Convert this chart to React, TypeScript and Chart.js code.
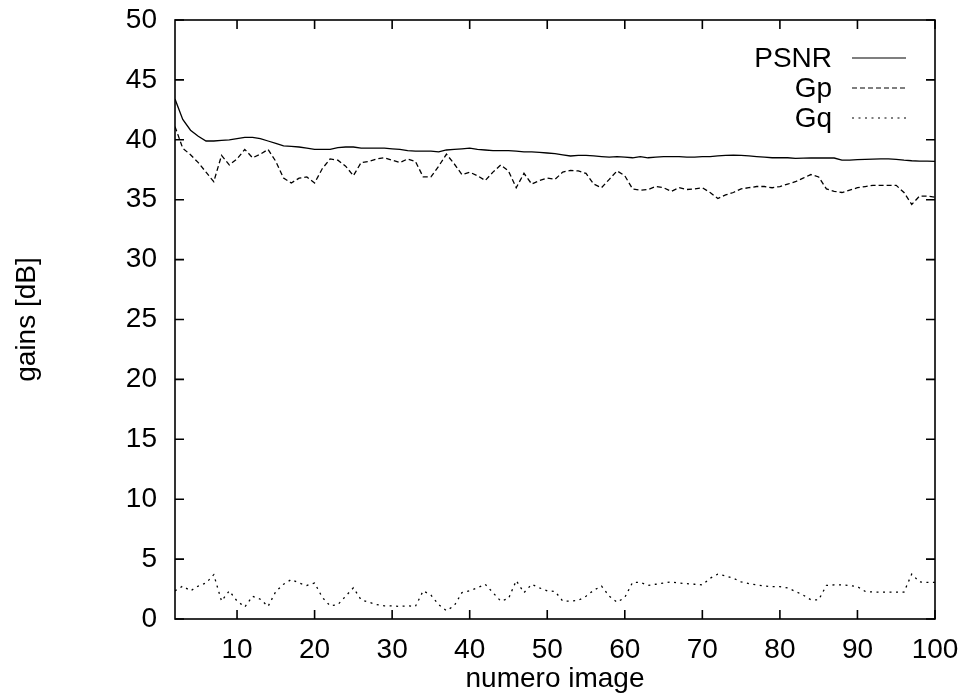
import React, { useEffect, useRef } from "react";
import { Chart, registerables } from "chart.js";

Chart.register(...registerables);

const imageNumbers = [
  2, 3, 4, 5, 6, 7, 8, 9, 10, 11, 12, 13, 14, 15, 16, 17, 18, 19, 20, 21,
  22, 23, 24, 25, 26, 27, 28, 29, 30, 31, 32, 33, 34, 35, 36, 37, 38, 39, 40, 41,
  42, 43, 44, 45, 46, 47, 48, 49, 50, 51, 52, 53, 54, 55, 56, 57, 58, 59, 60, 61,
  62, 63, 64, 65, 66, 67, 68, 69, 70, 71, 72, 73, 74, 75, 76, 77, 78, 79, 80, 81,
  82, 83, 84, 85, 86, 87, 88, 89, 90, 91, 92, 93, 94, 95, 96, 97, 98, 99, 100,
];

const psnr = [
  43.4, 41.7, 40.8, 40.3, 39.9, 39.9, 39.95, 40.0, 40.1, 40.2, 40.2, 40.1, 39.9, 39.7, 39.5, 39.45, 39.4, 39.3, 39.2, 39.2,
  39.2, 39.35, 39.4, 39.4, 39.3, 39.3, 39.3, 39.3, 39.25, 39.2, 39.1, 39.05, 39.05, 39.05, 39.0, 39.15, 39.2, 39.25, 39.3, 39.2,
  39.15, 39.1, 39.1, 39.1, 39.05, 39.0, 39.0, 38.95, 38.9, 38.85, 38.75, 38.65, 38.7, 38.7, 38.65, 38.6, 38.55, 38.6, 38.55, 38.5,
  38.6, 38.5, 38.55, 38.6, 38.6, 38.6, 38.55, 38.55, 38.6, 38.6, 38.65, 38.7, 38.72, 38.7, 38.65, 38.6, 38.55, 38.5, 38.5, 38.5,
  38.45, 38.47, 38.48, 38.48, 38.48, 38.48, 38.3, 38.3, 38.35, 38.37, 38.38, 38.4, 38.4, 38.37, 38.3, 38.25, 38.22, 38.22, 38.2,
];

const gp = [
  41.1, 39.3, 38.75, 38.1, 37.3, 36.5, 38.7, 37.9, 38.4, 39.2, 38.5, 38.8, 39.2, 38.2, 36.8, 36.4, 36.8, 36.9, 36.4, 37.6,
  38.4, 38.3, 37.8, 37.0, 38.1, 38.2, 38.4, 38.5, 38.3, 38.1, 38.4, 38.2, 36.9, 36.9, 37.8, 38.8, 38.0, 37.1, 37.3, 37.0,
  36.6, 37.3, 37.9, 37.4, 36.0, 37.2, 36.3, 36.6, 36.8, 36.7, 37.3, 37.45, 37.4, 37.2, 36.3, 36.0, 36.7, 37.4, 37.0, 35.9,
  35.8, 35.85, 36.1, 36.0, 35.7, 36.0, 35.85, 35.9, 36.0, 35.6, 35.1, 35.4, 35.6, 35.9, 36.0, 36.1, 36.1, 36.0, 36.1, 36.3,
  36.5, 36.8, 37.1, 36.9, 35.9, 35.7, 35.6, 35.8, 36.0, 36.1, 36.2, 36.2, 36.2, 36.2, 35.6, 34.6, 35.3, 35.3, 35.2,
];

const gq = [
  2.35, 2.75, 2.35, 2.75, 3.0, 3.7, 1.5, 2.35, 1.5, 1.0, 1.9, 1.65, 1.05, 2.3, 2.9, 3.3, 3.0, 2.8, 3.0, 1.8,
  1.1, 1.2, 1.9, 2.6, 1.6, 1.4, 1.2, 1.1, 1.1, 1.05, 1.1, 1.05, 2.35, 2.0, 1.2, 0.7, 1.1, 2.2, 2.35, 2.6,
  2.9, 2.2, 1.5, 1.7, 3.2, 2.2, 2.9, 2.6, 2.35, 2.3, 1.5, 1.5, 1.55, 1.9, 2.4, 2.75, 1.9, 1.4, 1.8, 3.05,
  3.05, 2.8, 2.9, 3.0, 3.1, 3.0, 2.95, 2.9, 2.85, 3.4, 3.75, 3.6, 3.4, 3.1, 2.95, 2.85, 2.75, 2.7, 2.7, 2.6,
  2.3, 2.0, 1.6, 1.6, 2.8, 2.85, 2.85, 2.8, 2.7, 2.3, 2.25, 2.25, 2.25, 2.25, 2.25, 3.75, 3.1, 3.05, 3.05,
];

const xTickValues = [10, 20, 30, 40, 50, 60, 70, 80, 90, 100];
const yTickValues = [0, 5, 10, 15, 20, 25, 30, 35, 40, 45, 50];

const seriesLabels = ["PSNR", "Gp", "Gq"];

const FONT = '"Liberation Sans", Arial, Helvetica, sans-serif';

const framePlugin = {
  id: "gnuplotFrame",
  afterDraw(chart: any) {
    const { ctx, chartArea: a, scales } = chart;
    ctx.save();
    ctx.strokeStyle = "#000";
    ctx.lineWidth = 1.6;
    ctx.setLineDash([]);
    ctx.strokeRect(a.left, a.top, a.right - a.left, a.bottom - a.top);
    ctx.beginPath();
    const tl = 9;
    for (const v of yTickValues) {
      const py = scales.y.getPixelForValue(v);
      ctx.moveTo(a.left, py);
      ctx.lineTo(a.left + tl, py);
      ctx.moveTo(a.right, py);
      ctx.lineTo(a.right - tl, py);
    }
    for (const v of xTickValues) {
      const px = scales.x.getPixelForValue(v);
      ctx.moveTo(px, a.bottom);
      ctx.lineTo(px, a.bottom - tl);
      ctx.moveTo(px, a.top);
      ctx.lineTo(px, a.top + tl);
    }
    ctx.stroke();

    // key (legend), gnuplot style: right-aligned label then line sample
    ctx.font = `28px ${FONT}`;
    ctx.fillStyle = "#000";
    ctx.textAlign = "right";
    ctx.textBaseline = "middle";
    chart.data.datasets.forEach((ds: any, i: number) => {
      const y = a.top + 38 + i * 30;
      ctx.fillText(ds.label, a.right - 103, y + 1);
      ctx.beginPath();
      ctx.lineWidth = 1.2;
      ctx.setLineDash(ds.borderDash || []);
      ctx.moveTo(a.right - 83, y);
      ctx.lineTo(a.right - 29, y);
      ctx.stroke();
    });
    ctx.restore();
  },
};

export default function App() {
  const ref = useRef<HTMLCanvasElement | null>(null);

  useEffect(() => {
    if (!ref.current) return;
    const toPoints = (vals: number[]) => vals.map((v, i) => ({ x: imageNumbers[i], y: v }));
    const chart = new Chart(ref.current, {
      type: "line",
      data: {
        datasets: [
          {
            label: seriesLabels[0],
            data: toPoints(psnr),
            borderColor: "#000",
            borderWidth: 1.3,
            pointRadius: 0,
            tension: 0,
            fill: false,
          },
          {
            label: seriesLabels[1],
            data: toPoints(gp),
            borderColor: "#000",
            borderWidth: 1.3,
            borderDash: [5, 3],
            pointRadius: 0,
            tension: 0,
            fill: false,
          },
          {
            label: seriesLabels[2],
            data: toPoints(gq),
            borderColor: "#000",
            borderWidth: 1.3,
            borderDash: [2, 4.5],
            pointRadius: 0,
            tension: 0,
            fill: false,
          },
        ],
      },
      options: {
        animation: false,
        responsive: false,
        maintainAspectRatio: false,
        layout: { padding: { top: 20, right: 29, left: 0, bottom: 0 } },
        plugins: {
          legend: { display: false },
          tooltip: { enabled: false },
        },
        scales: {
          x: {
            type: "linear",
            min: 2,
            max: 100,
            grid: { display: false, drawTicks: false },
            border: { display: false },
            afterBuildTicks: (scale: any) => {
              scale.ticks = xTickValues.map((v) => ({ value: v }));
            },
            afterFit: (scale: any) => {
              scale.height = 79;
              scale.paddingLeft = 0;
              scale.paddingRight = 0;
            },
            ticks: {
              color: "#000",
              font: { family: FONT, size: 28 },
              padding: 14,
              maxRotation: 0,
              autoSkip: false,
            },
            title: {
              display: true,
              text: "numero image",
              color: "#000",
              font: { family: FONT, size: 28 },
              padding: { top: 0, bottom: 2 },
            },
          },
          y: {
            type: "linear",
            min: 0,
            max: 50,
            grid: { display: false, drawTicks: false },
            border: { display: false },
            afterBuildTicks: (scale: any) => {
              scale.ticks = yTickValues.map((v) => ({ value: v }));
            },
            afterFit: (scale: any) => {
              scale.width = 175;
              scale.paddingTop = 0;
              scale.paddingBottom = 0;
            },
            ticks: {
              color: "#000",
              font: { family: FONT, size: 28 },
              padding: 18,
              autoSkip: false,
            },
            title: {
              display: true,
              text: "gains [dB]",
              color: "#000",
              font: { family: FONT, size: 28 },
              padding: { top: 10, bottom: 0 },
            },
          },
        },
      },
      plugins: [framePlugin],
    } as any);
    return () => chart.destroy();
  }, []);

  return (
    <div style={{ position: "absolute", left: 0, top: 0, width: 964, height: 698, background: "#fff" }}>
      <canvas ref={ref} width={964} height={698} style={{ display: "block", width: 964, height: 698 }} />
    </div>
  );
}
